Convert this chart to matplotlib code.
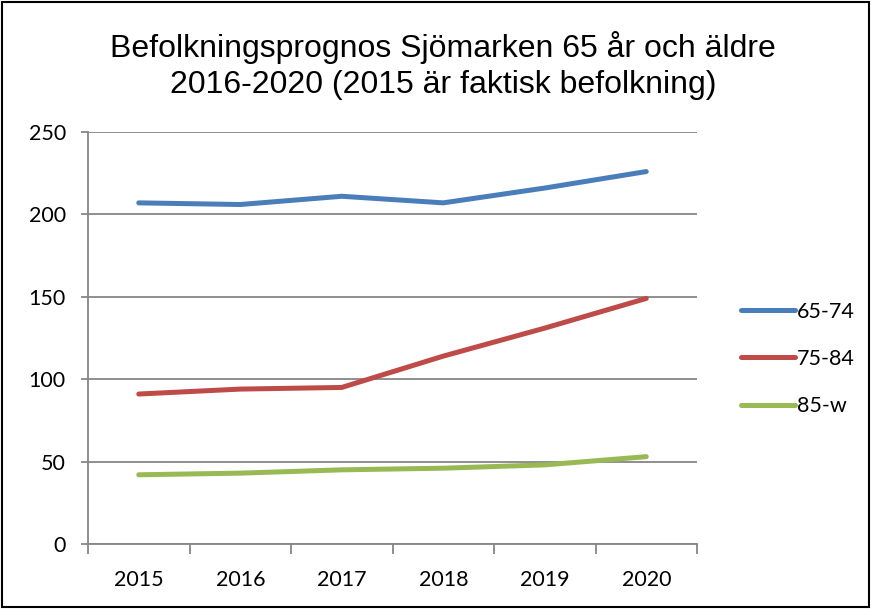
import matplotlib.pyplot as plt
from matplotlib.patches import Rectangle

years = ["2015", "2016", "2017", "2018", "2019", "2020"]
age_65_74 = [207, 206, 211, 207, 216, 226]
age_75_84 = [91, 94, 95, 114, 131, 149]
age_85_w = [42, 43, 45, 46, 48, 53]
series_names = ["65-74", "75-84", "85-w"]
colors = ["#4A7EBB", "#BE4B48", "#98B954"]
yticks = [0, 50, 100, 150, 200, 250]

fig = plt.figure(figsize=(8.72, 6.09), dpi=100)
ax = fig.add_axes([88 / 872, 65 / 609, 609 / 872, 412 / 609])

x = list(range(len(years)))
for vals, name, c in zip([age_65_74, age_75_84, age_85_w], series_names, colors):
    ax.plot(x, vals, color=c, lw=3.6, solid_capstyle="round", solid_joinstyle="round", label=name)

ax.set_xlim(-0.5, len(years) - 0.5)
ax.set_ylim(0, 250)
ax.set_yticks(yticks)
ax.set_xticks(x)
ax.set_xticklabels(years)
ax.set_xticks([i - 0.5 for i in range(len(years) + 1)], minor=True)

grid_c = "#868686"
ax.grid(axis="y", color=grid_c, lw=1.3)
ax.set_axisbelow(True)
for s in ["top", "right"]:
    ax.spines[s].set_visible(False)
for s in ["left", "bottom"]:
    ax.spines[s].set_color(grid_c)
    ax.spines[s].set_linewidth(1.3)

ax.tick_params(axis="x", which="major", length=0, pad=19, labelsize=15.5)
ax.tick_params(axis="x", which="minor", length=7, width=1.3, color=grid_c, direction="out")
ax.tick_params(axis="y", length=5, width=1.3, color=grid_c, pad=11, labelsize=15.5)
for lab in ax.get_xticklabels() + ax.get_yticklabels():
    lab.set_family("Lato")

leg = ax.legend(loc="center left", bbox_to_anchor=(1.04, 0.449), frameon=False,
                prop={"family": "Lato", "size": 15.5}, handlelength=2.5,
                handletextpad=0.1, labelspacing=1.26)

fig.text(443 / 872, 1 - 48 / 609, "Befolkningsprognos Sjömarken 65 år och äldre",
         ha="center", va="center", fontsize=23, family="Liberation Sans")
fig.text(443 / 872, 1 - 85 / 609, "2016-2020 (2015 är faktisk befolkning)",
         ha="center", va="center", fontsize=23, family="Liberation Sans")

fig.patches.append(Rectangle((0.002, 0.003), 0.994, 0.994, transform=fig.transFigure,
                             fill=False, edgecolor="black", lw=1.5))

fig.savefig("out.png", dpi=100)
